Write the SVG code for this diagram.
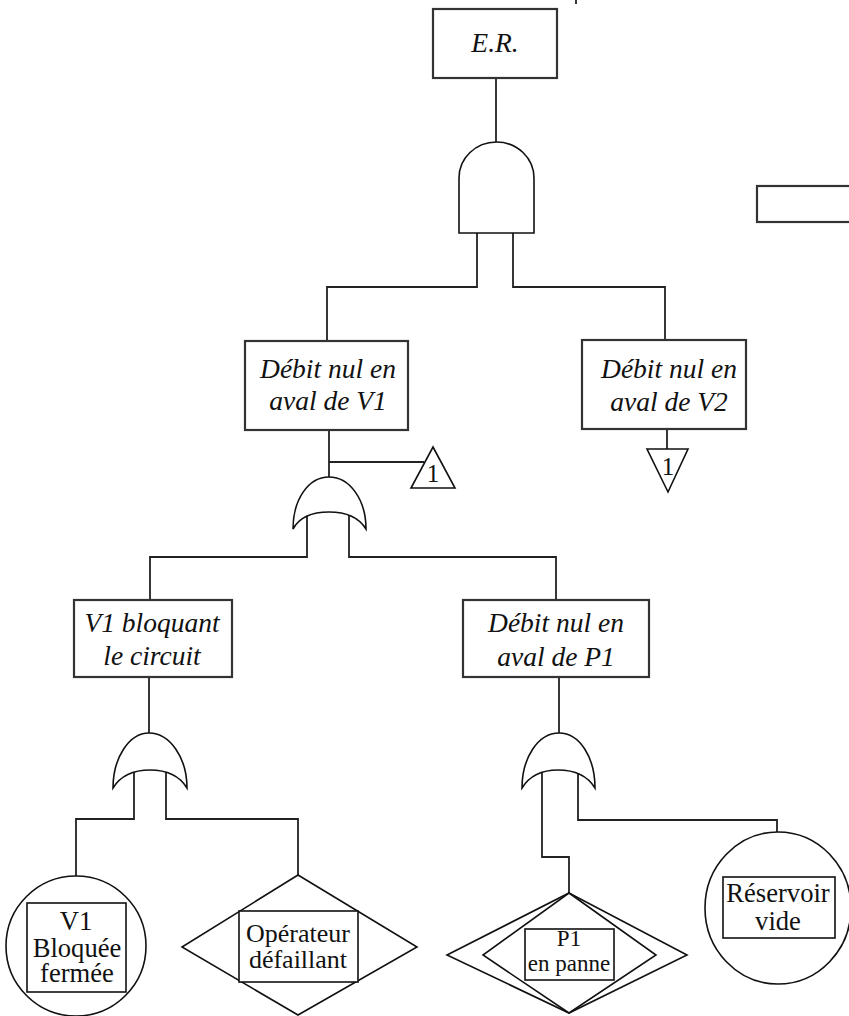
<svg xmlns="http://www.w3.org/2000/svg" width="849" height="1016" viewBox="0 0 849 1016">
<style>
.box{fill:#fff;stroke:#333;stroke-width:2.2}
.shape{fill:#fff;stroke:#111;stroke-width:1.6}
.gate{fill:#fff;stroke:#111;stroke-width:1.6}
.wire{fill:none;stroke:#222;stroke-width:1.8}
</style>
<g id="connectors">
<path class="wire" d="M496,78 V150"/>
<path class="wire" d="M477,233 V287 H327 V341"/>
<path class="wire" d="M513,233 V287 H665 V340"/>
<path class="wire" d="M667,429 V449"/>
<path class="wire" d="M329,430 V485"/>
<path class="wire" d="M329,462 H424"/>
<path class="wire" d="M307,512 V557 H150 V600"/>
<path class="wire" d="M349,512 V557 H556 V600"/>
<path class="wire" d="M149,677 V740"/>
<path class="wire" d="M134,765 V819 H76 V877"/>
<path class="wire" d="M166,765 V819 H298 V875"/>
<path class="wire" d="M559,677 V740"/>
<path class="wire" d="M542,765 V857 H569 V893"/>
<path class="wire" d="M578,765 V820 H777 V832"/>
<path class="wire" d="M576,0 V4"/>
</g>
<g font-family="Liberation Serif" font-size="20" fill="#111" text-anchor="middle">
<g id="er">
<rect class="box" x="433" y="9" width="124" height="69"/>
<text font-family="Liberation Serif" font-size="20" font-style="italic" transform="translate(495,52) scale(1.375)">E.R.</text>
</g>
<g id="and1">
<path class="gate" d="M459,233 V178 A37.5,36 0 0 1 534,178 V233 Z"/>
</g>
<g id="legend-box">
<rect class="box" x="757" y="186" width="100" height="36"/>
</g>
<g id="ev-v1" font-style="italic">
<rect class="box" x="245" y="341" width="163" height="89"/>
<text font-family="Liberation Serif" font-size="20" transform="translate(328,378) scale(1.375)">Débit nul en</text>
<text font-family="Liberation Serif" font-size="20" transform="translate(328,410) scale(1.375)">aval de V1</text>
</g>
<g id="ev-v2" font-style="italic">
<rect class="box" x="582" y="340" width="164" height="89"/>
<text font-family="Liberation Serif" font-size="20" transform="translate(669,378) scale(1.375)">Débit nul en</text>
<text font-family="Liberation Serif" font-size="20" transform="translate(669,411) scale(1.375)">aval de V2</text>
</g>
<g id="transfer-in">
<path class="shape" d="M647,449 H688 L668,492 Z"/>
<text font-family="Liberation Serif" font-size="20" transform="translate(668,475) scale(1.25)">1</text>
</g>
<g id="transfer-out">
<path class="shape" d="M433,447 L455,488 H411 Z"/>
<text font-family="Liberation Serif" font-size="20" transform="translate(433,482) scale(1.25)">1</text>
</g>
<g id="or1">
<path class="gate" d="M293,529 C293,500 308,477 329,477 C350,477 366,500 366,529 C358,516 345,512 329,512 C313,512 300,516 293,529 Z"/>
</g>
<g id="ev-bloquant" font-style="italic">
<rect class="box" x="74" y="600" width="158" height="77"/>
<text font-family="Liberation Serif" font-size="20" transform="translate(152,632) scale(1.375)">V1 bloquant</text>
<text font-family="Liberation Serif" font-size="20" transform="translate(152,665) scale(1.375)">le circuit</text>
</g>
<g id="ev-p1" font-style="italic">
<rect class="box" x="463" y="600" width="186" height="77"/>
<text font-family="Liberation Serif" font-size="20" transform="translate(556,632) scale(1.375)">Débit nul en</text>
<text font-family="Liberation Serif" font-size="20" transform="translate(556,666) scale(1.375)">aval de P1</text>
</g>
<g id="or2">
<path class="gate" d="M113,788 C113,758 129,733 149,733 C170,733 187,758 187,788 C179,775 166,770 150,770 C134,770 121,775 113,788 Z"/>
</g>
<g id="or3">
<path class="gate" d="M522,788 C522,758 538,733 559,733 C580,733 595,758 595,788 C587,775 574,770 558,770 C542,770 530,775 522,788 Z"/>
</g>
<g id="basic-v1">
<circle class="shape" cx="76" cy="946" r="70"/>
<rect class="shape" x="27" y="903" width="99" height="89"/>
<text font-family="Liberation Serif" font-size="20" transform="translate(76,930) scale(1.33)">V1</text>
<text font-family="Liberation Serif" font-size="20" transform="translate(77,957) scale(1.33)">Bloquée</text>
<text font-family="Liberation Serif" font-size="20" transform="translate(77,982) scale(1.33)">fermée</text>
</g>
<g id="undev-operateur">
<path class="shape" d="M298,875 L417,947 L298,1015 L182,947 Z"/>
<rect class="shape" x="239" y="911" width="119" height="71"/>
<text font-family="Liberation Serif" font-size="20" transform="translate(298,942) scale(1.3)">Opérateur</text>
<text font-family="Liberation Serif" font-size="20" transform="translate(298,968) scale(1.3)">défaillant</text>
</g>
<g id="undev-p1">
<path class="shape" d="M569,893 L687,955 L569,1013 L447,955 Z"/>
<path class="shape" d="M569,893 L656,955 L569,1013 L483,955 Z"/>
<rect class="shape" x="525" y="929" width="89" height="51"/>
<text font-family="Liberation Serif" font-size="20" transform="translate(569,946) scale(1.15)">P1</text>
<text font-family="Liberation Serif" font-size="20" transform="translate(569,971) scale(1.15)">en panne</text>
</g>
<g id="basic-reservoir">
<ellipse class="shape" cx="778" cy="908" rx="73" ry="76"/>
<rect class="shape" x="723" y="877" width="112" height="61"/>
<text font-family="Liberation Serif" font-size="20" transform="translate(778,902) scale(1.33)">Réservoir</text>
<text font-family="Liberation Serif" font-size="20" transform="translate(778,930) scale(1.33)">vide</text>
</g>
</g>
</svg>
